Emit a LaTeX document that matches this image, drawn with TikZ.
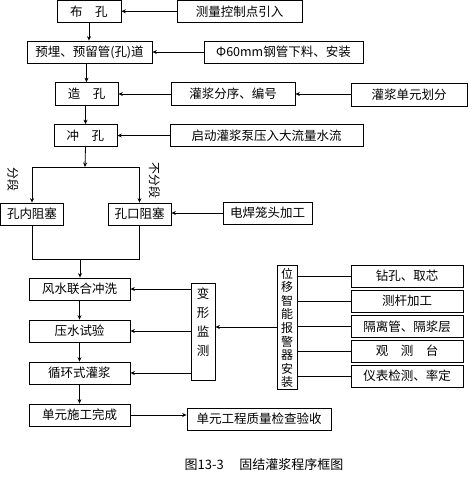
\documentclass[tikz,border=0pt]{standalone}
\usepackage{fontspec}
\setmainfont{Noto Sans CJK SC}
\usetikzlibrary{arrows.meta}
\begin{document}
\begin{tikzpicture}[x=1pt,y=-1pt,
  bx/.style={draw,line width=0.8pt,inner sep=0pt,font=\fontsize{12.5}{14}\selectfont},
  arr/.style={line width=0.8pt,-{Stealth[length=4.5pt,width=4pt]}},
  ln/.style={line width=0.8pt}]
\useasboundingbox (0,0) rectangle (475,480);
% row 1
\node[bx,minimum width=64pt,minimum height=21.5pt] (buk) at (89,11.3) {布\quad 孔};
\node[bx,minimum width=125pt,minimum height=21.5pt] (cl) at (239.5,11.3) {测量控制点引入};
% row 2
\node[bx,minimum width=125pt,minimum height=22pt] (ym) at (89.5,52) {预埋、预留管(孔)道};
\node[bx,minimum width=159pt,minimum height=22pt] (phi) at (283.5,52) {Φ60mm钢管下料、安装};
% row 3
\node[bx,minimum width=63pt,minimum height=23pt] (zk) at (86.5,94) {造\quad 孔};
\node[bx,minimum width=124pt,minimum height=23pt] (fx) at (233,94) {灌浆分序、编号};
\node[bx,minimum width=116pt,minimum height=23pt] (dy) at (409,94.5) {灌浆单元划分};
% row 4
\node[bx,minimum width=63pt,minimum height=22pt] (ck) at (85.5,135.5) {冲\quad 孔};
\node[bx,minimum width=193pt,minimum height=22pt] (qd) at (266.5,135.5) {启动灌浆泵压入大流量水流};
% row 5
\node[bx,minimum width=62.5pt,minimum height=22pt] (kn) at (32,214) {孔内阻塞};
\node[bx,minimum width=63pt,minimum height=22pt] (kk) at (139.5,214) {孔口阻塞};
\node[bx,minimum width=89pt,minimum height=22pt] (dh) at (267.5,213) {电焊笼头加工};
\node[font=\fontsize{12}{13}\selectfont,rotate=-90] (fd) at (13,179) {分段};
\node[font=\fontsize{12}{13}\selectfont,rotate=-90] (bfd) at (154.5,180) {不分段};
% main chain
\node[bx,minimum width=101pt,minimum height=22pt] (fs) at (79.5,289) {风水联合冲洗};
\node[bx,minimum width=101pt,minimum height=22pt] (ys) at (79.5,331) {压水试验};
\node[bx,minimum width=101pt,minimum height=22pt] (xh) at (79.5,373) {循环式灌浆};
\node[bx,minimum width=101pt,minimum height=22pt] (dw) at (79.5,415) {单元施工完成};
\node[bx,minimum width=144pt,minimum height=22pt] (zl) at (259,419) {单元工程质量检查验收};
% deformation monitoring
\node[draw,line width=0.8pt,minimum width=24pt,minimum height=97pt] (bxb) at (203,331.5) {};
\node[align=center,inner sep=0pt,font=\fontsize{12.5}{19}\selectfont] (bxt) at (203,322) {变\\形\\监\\测};
\node[draw,line width=0.8pt,minimum width=20pt,minimum height=124pt] (wy) at (287,327) {};
\node[align=center,inner sep=0pt,font=\fontsize{12}{13.6}\selectfont] (wyt) at (287,328) {位\\移\\智\\能\\报\\警\\器\\安\\装};
% right boxes
\node[bx,minimum width=112pt,minimum height=22pt] (r1) at (407,276) {钻孔、取芯};
\node[bx,minimum width=112pt,minimum height=22pt] (r2) at (407,301) {测杆加工};
\node[bx,minimum width=112pt,minimum height=22pt] (r3) at (407,326.5) {隔离管、隔浆层};
\node[bx,minimum width=112pt,minimum height=22pt] (r4) at (407,351) {观\quad 测\quad 台};
\node[bx,minimum width=112pt,minimum height=22pt] (r5) at (407,376) {仪表检测、率定};
% caption
\node[font=\fontsize{13}{14}\selectfont] (cap) at (264,465) {图13-3\hspace{1.2em}固结灌浆程序框图};
% coordinates
\coordinate (sp) at (85,167);
\coordinate (mg) at (80,259);
% connectors
\draw[arr] (cl.west) -- (buk.east);
\draw[arr] (buk.south) -- (buk.south |- ym.north);
\draw[arr] (phi.west) -- (ym.east);
\draw[arr] (ym.south -| zk.north) -- (zk.north);
\draw[arr] (fx.west) -- (zk.east);
\draw[arr] (dy.west |- fx.east) -- (fx.east);
\draw[arr] (zk.south -| ck.north) -- (ck.north);
\draw[arr] (qd.west) -- (ck.east);
\draw[arr] (ck.south) -- (sp);
\draw[ln] (kn.north |- sp) -- (kk.north |- sp);
\draw[arr] (kn.north |- sp) -- (kn.north);
\draw[arr] (kk.north |- sp) -- (kk.north);
\draw[arr] (dh.west) -- (dh.west -| kk.east);
\draw[ln] (kn.south) -- (kn.south |- mg) -- (kk.south |- mg) -- (kk.south);
\draw[arr] (mg) -- (mg |- fs.north);
\draw[arr] (fs.south) -- (ys.north);
\draw[arr] (ys.south) -- (xh.north);
\draw[arr] (xh.south) -- (dw.north);
\draw[arr] (dw.east) -- (dw.east -| zl.west);
\draw[arr] (bxb.west |- fs.east) -- (fs.east);
\draw[arr] (bxb.west |- ys.east) -- (ys.east);
\draw[arr] (bxb.west |- xh.east) -- (xh.east);
\draw[arr] (wy.west) -- (wy.west -| bxb.east);
\foreach \r in {r1,r2,r3,r4,r5} \draw[ln] (\r.west -| wy.east) -- (\r.west);
\end{tikzpicture}
\end{document}
